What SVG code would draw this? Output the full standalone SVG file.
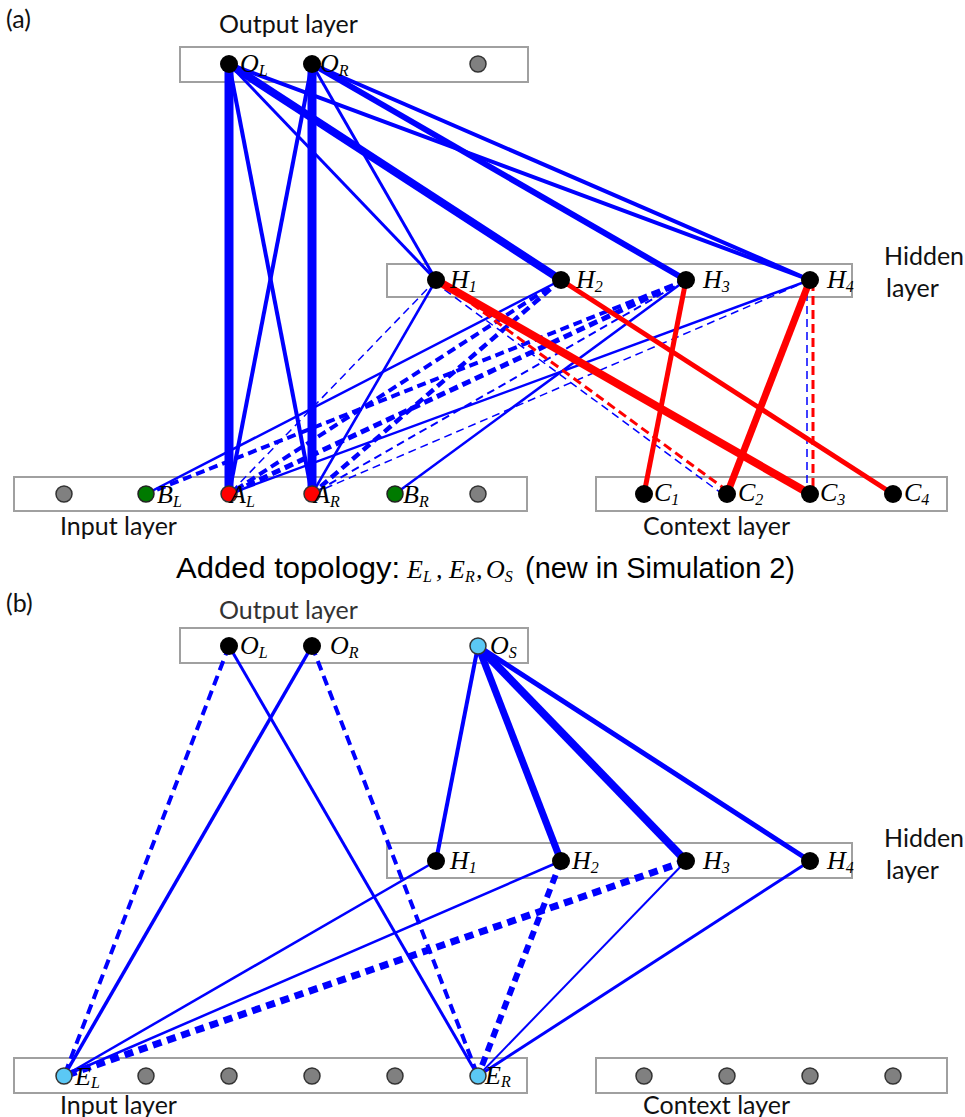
<svg xmlns="http://www.w3.org/2000/svg" width="965" height="1117" viewBox="0 0 965 1117">
<style>
.bg{fill:#ffffff}
.box{fill:none;stroke:#a0a0a0;stroke-width:2}
.t{font-family:Lato,"Open Sans","Liberation Sans",sans-serif;font-size:25px;fill:#111}
.t2{font-family:Lato,"Open Sans","Liberation Sans",sans-serif;font-size:25px;fill:#333}
.cap{font-family:"Liberation Sans",Arial,sans-serif;font-size:30px;fill:#000}
.lab{font-family:"Liberation Serif","Times New Roman",serif;font-style:italic;font-size:26px;fill:#000}
.sub{font-size:16px}
.b{stroke:#0000ff;fill:none;stroke-linecap:butt}
.r{stroke:#ff0000;fill:none}
.dt{stroke-dasharray:8 5}
.dk{stroke-dasharray:9 5}
.n{fill:#000}
.g{fill:#808080;stroke:#333;stroke-width:1.5}
.gr{fill:#007a00;stroke:#222;stroke-width:1.5}
.rd{fill:#ff0000;stroke:#333;stroke-width:1.5}
.lb{fill:#5bc8f5;stroke:#333;stroke-width:1.5}
</style>
<rect class="bg" x="0" y="0" width="965" height="1117"/>

<g id="labels-a">
<text class="t" x="6" y="28">(a)</text>
<text class="t" x="219" y="33">Output layer</text>
<text class="t" x="884" y="265">Hidden</text>
<text class="t" x="886" y="297">layer</text>
<text class="t" x="60" y="535">Input layer</text>
<text class="t" x="643" y="535">Context layer</text>
</g>

<g id="caption">
<text class="cap" x="176" y="578" textLength="224" lengthAdjust="spacingAndGlyphs">Added topology:</text>
<text class="lab" x="407" y="578">E<tspan class="sub" dy="4">L</tspan></text>
<text class="lab" x="436" y="578" font-style="normal">,</text>
<text class="lab" x="449" y="578">E<tspan class="sub" dy="4">R</tspan></text>
<text class="lab" x="476" y="578" font-style="normal">,</text>
<text class="lab" x="486" y="578">O<tspan class="sub" dy="4">S</tspan></text>
<text class="cap" x="525" y="578" textLength="270" lengthAdjust="spacingAndGlyphs">(new in Simulation 2)</text>
</g>

<g id="labels-b">
<text class="t" x="6" y="612">(b)</text>
<text class="t2" x="219" y="619">Output layer</text>
<text class="t" x="884" y="847">Hidden</text>
<text class="t" x="886" y="879">layer</text>
<text class="t" x="60" y="1114">Input layer</text>
<text class="t" x="643" y="1114">Context layer</text>
</g>

<g id="layer-boxes">
<rect class="box" x="180" y="47" width="348" height="35"/>
<rect class="box" x="387" y="264" width="465" height="33"/>
<rect class="box" x="14" y="477" width="513" height="34"/>
<rect class="box" x="596" y="477" width="351" height="34"/>
<rect class="box" x="180" y="628" width="348" height="35"/>
<rect class="box" x="387" y="843" width="465" height="35"/>
<rect class="box" x="14" y="1058" width="513" height="35"/>
<rect class="box" x="596" y="1058" width="351" height="35"/>
</g>

<g id="connectors">
<line class="b" x1="229" y1="64" x2="229" y2="494" stroke-width="9"/>
<line class="b" x1="312" y1="64" x2="312" y2="494" stroke-width="9"/>
<line class="b" x1="229" y1="64" x2="312" y2="494" stroke-width="4"/>
<line class="b" x1="312" y1="64" x2="229" y2="494" stroke-width="4"/>
<line class="b" x1="229" y1="64" x2="436" y2="280" stroke-width="3"/>
<line class="b" x1="312" y1="64" x2="436" y2="280" stroke-width="3"/>
<line class="b" x1="229" y1="64" x2="561" y2="280" stroke-width="8"/>
<line class="b" x1="312" y1="64" x2="686" y2="280" stroke-width="6"/>
<line class="b" x1="229" y1="64" x2="810" y2="280" stroke-width="4"/>
<line class="b" x1="312" y1="64" x2="810" y2="280" stroke-width="4"/>
<line class="b" x1="436" y1="280" x2="312" y2="494" stroke-width="2.5"/>
<line class="b" x1="561" y1="280" x2="146" y2="494" stroke-width="2.5"/>
<line class="b" x1="686" y1="280" x2="395" y2="494" stroke-width="2.5"/>
<line class="b" x1="810" y1="280" x2="229" y2="494" stroke-width="2.5"/>
<line class="b dt" x1="436" y1="280" x2="229" y2="494" stroke-width="1.5"/>
<line class="b dt" x1="810" y1="280" x2="312" y2="494" stroke-width="1.5"/>
<line class="b dt" x1="686" y1="280" x2="312" y2="494" stroke-width="2"/>
<line class="b dk" x1="561" y1="280" x2="229" y2="494" stroke-width="4"/>
<line class="b dk" x1="561" y1="280" x2="312" y2="494" stroke-width="4.5"/>
<line class="b dk" x1="686" y1="280" x2="229" y2="494" stroke-width="5"/>
<line class="b dk" x1="686" y1="280" x2="146" y2="494" stroke-width="4"/>
<line class="b dt" x1="434" y1="282" x2="725" y2="496" stroke-width="1.5"/>
<line class="b dt" x1="807" y1="280" x2="807" y2="494" stroke-width="1.5"/>
<line class="r" x1="436" y1="280" x2="810" y2="494" stroke-width="8"/>
<line class="r" x1="561" y1="280" x2="893" y2="494" stroke-width="5"/>
<line class="r" x1="686" y1="280" x2="644" y2="494" stroke-width="5"/>
<line class="r" x1="810" y1="280" x2="727" y2="494" stroke-width="7"/>
<line class="r dk" x1="438" y1="279" x2="729" y2="492" stroke-width="3"/>
<line class="r dk" x1="813" y1="282" x2="813" y2="494" stroke-width="3"/>
<line class="b" x1="229" y1="646" x2="64" y2="1076" stroke-width="4" stroke-dasharray="10 6"/>
<line class="b" x1="229" y1="646" x2="478" y2="1076" stroke-width="3"/>
<line class="b" x1="312" y1="646" x2="64" y2="1076" stroke-width="3.5"/>
<line class="b" x1="312" y1="646" x2="478" y2="1076" stroke-width="4" stroke-dasharray="10 6"/>
<line class="b" x1="478" y1="646" x2="436" y2="861" stroke-width="4"/>
<line class="b" x1="478" y1="646" x2="561" y2="861" stroke-width="7"/>
<line class="b" x1="478" y1="646" x2="686" y2="861" stroke-width="8"/>
<line class="b" x1="478" y1="646" x2="810" y2="861" stroke-width="5"/>
<line class="b" x1="436" y1="861" x2="64" y2="1076" stroke-width="2.5"/>
<line class="b" x1="561" y1="861" x2="64" y2="1076" stroke-width="2.5"/>
<line class="b" x1="686" y1="861" x2="64" y2="1076" stroke-width="7" stroke-dasharray="9 6"/>
<line class="b" x1="561" y1="861" x2="478" y2="1076" stroke-width="6" stroke-dasharray="9 6"/>
<line class="b" x1="686" y1="861" x2="478" y2="1076" stroke-width="2"/>
<line class="b" x1="810" y1="861" x2="478" y2="1076" stroke-width="3"/>
</g>

<g id="node-OL-a"><circle class="n" cx="229" cy="64" r="9"/><text class="lab" x="240" y="72">O<tspan class="sub" dy="4">L</tspan></text></g>
<g id="node-OR-a"><circle class="n" cx="312" cy="64" r="9"/><text class="lab" x="320" y="72">O<tspan class="sub" dy="4">R</tspan></text></g>
<g id="node-O3-a"><circle class="g" cx="478" cy="64" r="8"/></g>
<g id="node-H1-a"><circle class="n" cx="436" cy="280" r="9"/><text class="lab" x="450" y="288">H<tspan class="sub" dy="4">1</tspan></text></g>
<g id="node-H2-a"><circle class="n" cx="561" cy="280" r="9"/><text class="lab" x="576" y="288">H<tspan class="sub" dy="4">2</tspan></text></g>
<g id="node-H3-a"><circle class="n" cx="686" cy="280" r="9"/><text class="lab" x="703" y="288">H<tspan class="sub" dy="4">3</tspan></text></g>
<g id="node-H4-a"><circle class="n" cx="810" cy="280" r="9"/><text class="lab" x="827" y="288">H<tspan class="sub" dy="4">4</tspan></text></g>
<g id="node-I1-a"><circle class="g" cx="64" cy="494" r="8"/></g>
<g id="node-BL-a"><circle class="gr" cx="146" cy="494" r="8"/><text class="lab" x="157" y="503">B<tspan class="sub" dy="4">L</tspan></text></g>
<g id="node-AL-a"><circle class="rd" cx="229" cy="494" r="8"/><text class="lab" x="230" y="503">A<tspan class="sub" dy="4">L</tspan></text></g>
<g id="node-AR-a"><circle class="rd" cx="312" cy="494" r="8"/><text class="lab" x="314" y="503">A<tspan class="sub" dy="4">R</tspan></text></g>
<g id="node-BR-a"><circle class="gr" cx="395" cy="494" r="8"/><text class="lab" x="403" y="503">B<tspan class="sub" dy="4">R</tspan></text></g>
<g id="node-I6-a"><circle class="g" cx="478" cy="494" r="8"/></g>
<g id="node-C1-a"><circle class="n" cx="644" cy="494" r="9"/><text class="lab" x="654" y="501">C<tspan class="sub" dy="4">1</tspan></text></g>
<g id="node-C2-a"><circle class="n" cx="727" cy="494" r="9"/><text class="lab" x="738" y="501">C<tspan class="sub" dy="4">2</tspan></text></g>
<g id="node-C3-a"><circle class="n" cx="810" cy="494" r="9"/><text class="lab" x="820" y="501">C<tspan class="sub" dy="4">3</tspan></text></g>
<g id="node-C4-a"><circle class="n" cx="893" cy="494" r="9"/><text class="lab" x="904" y="501">C<tspan class="sub" dy="4">4</tspan></text></g>

<g id="node-OL-b"><circle class="n" cx="229" cy="646" r="9"/><text class="lab" x="240" y="654">O<tspan class="sub" dy="4">L</tspan></text></g>
<g id="node-OR-b"><circle class="n" cx="312" cy="646" r="9"/><text class="lab" x="330" y="654">O<tspan class="sub" dy="4">R</tspan></text></g>
<g id="node-OS-b"><circle class="lb" cx="478" cy="646" r="8"/><text class="lab" x="490" y="654">O<tspan class="sub" dy="4">S</tspan></text></g>
<g id="node-H1-b"><circle class="n" cx="436" cy="861" r="9"/><text class="lab" x="450" y="869">H<tspan class="sub" dy="4">1</tspan></text></g>
<g id="node-H2-b"><circle class="n" cx="561" cy="861" r="9"/><text class="lab" x="572" y="869">H<tspan class="sub" dy="4">2</tspan></text></g>
<g id="node-H3-b"><circle class="n" cx="686" cy="861" r="9"/><text class="lab" x="703" y="869">H<tspan class="sub" dy="4">3</tspan></text></g>
<g id="node-H4-b"><circle class="n" cx="810" cy="861" r="9"/><text class="lab" x="827" y="869">H<tspan class="sub" dy="4">4</tspan></text></g>
<g id="node-EL-b"><circle class="lb" cx="64" cy="1076" r="8"/><text class="lab" x="75" y="1085">E<tspan class="sub" dy="3">L</tspan></text></g>
<g id="node-I2-b"><circle class="g" cx="146" cy="1076" r="8"/></g>
<g id="node-I3-b"><circle class="g" cx="229" cy="1076" r="8"/></g>
<g id="node-I4-b"><circle class="g" cx="312" cy="1076" r="8"/></g>
<g id="node-I5-b"><circle class="g" cx="395" cy="1076" r="8"/></g>
<g id="node-ER-b"><circle class="lb" cx="478" cy="1076" r="8"/><text class="lab" x="485" y="1084">E<tspan class="sub" dy="3">R</tspan></text></g>
<g id="node-C1-b"><circle class="g" cx="644" cy="1076" r="8"/></g>
<g id="node-C2-b"><circle class="g" cx="727" cy="1076" r="8"/></g>
<g id="node-C3-b"><circle class="g" cx="810" cy="1076" r="8"/></g>
<g id="node-C4-b"><circle class="g" cx="893" cy="1076" r="8"/></g>
</svg>
